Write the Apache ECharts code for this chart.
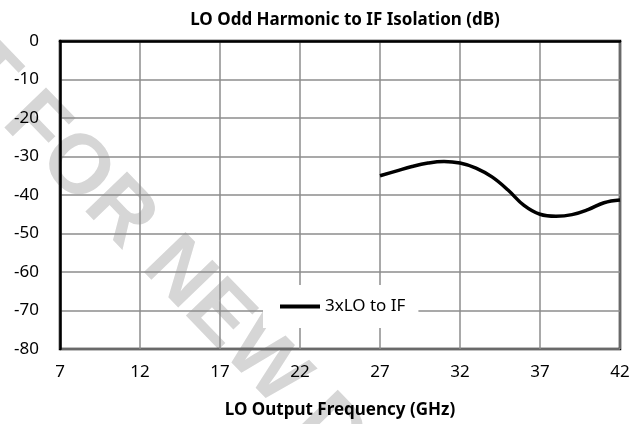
<!DOCTYPE html>
<html>
<head>
<meta charset="utf-8">
<script src="https://cdn.jsdelivr.net/npm/echarts@6/dist/echarts.min.js"></script>
<style>
  html, body { margin: 0; padding: 0; background: #fff; }
  #chart { width: 640px; height: 424px; }
</style>
</head>
<body>
<div id="chart"></div>
<script>
  // LO frequency (GHz) and isolation (dB)
  const freqGHz = [27, 28, 29, 30, 31, 32, 33, 34, 35, 36, 37, 38, 39, 40, 41, 42]
  const isolationDb = [-35, -33.8, -32.6, -31.7, -31.3, -31.7, -33.0, -35.3, -38.7, -42.7, -45.0, -45.5, -45.1, -43.8, -42.0, -41.3]
  const seriesName = '3xLO to IF'

  const font = 'Noto Sans'
  const chart = echarts.init(document.getElementById('chart'))

  chart.setOption({
    backgroundColor: '#fff',
    animation: false,
    title: {
      text: 'LO Odd Harmonic to IF Isolation (dB)',
      left: 340,
      textAlign: 'center',
      top: 7,
      textStyle: { fontFamily: font, fontSize: 17, fontWeight: 'bold', color: '#000' }
    },
    // watermark
    graphic: [{
      type: 'text',
      z: -10,
      x: -92,
      y: -66,
      rotation: -46 * Math.PI / 180,
      style: {
        text: 'NOT FOR NEW DESIGNS',
        font: 'bold 84px "Liberation Sans"',
        fill: '#d6d6d6'
      }
    }],
    legend: {
      left: 263,
      top: 285,
      backgroundColor: '#fff',
      padding: [13, 13, 13, 17],
      itemWidth: 40,
      itemHeight: 4,
      itemGap: 4,
      textStyle: { fontFamily: font, fontSize: 17, color: '#000' },
      data: [{ name: seriesName, icon: 'rect' }]
    },
    grid: {
      left: 60,
      right: 20,
      top: 41,
      bottom: 75,
      show: true,
      borderColor: '#000',
      borderWidth: 2.5
    },
    xAxis: {
      type: 'value',
      min: 7,
      max: 42,
      interval: 5,
      name: 'LO Output Frequency (GHz)',
      nameLocation: 'middle',
      nameGap: 53,
      nameTextStyle: { fontFamily: font, fontSize: 17, fontWeight: 'bold', color: '#000' },
      axisLine: { lineStyle: { color: '#000', width: 2.5 } },
      axisTick: { show: false },
      axisLabel: { fontFamily: font, fontSize: 17, color: '#000', margin: 15 },
      splitLine: { lineStyle: { color: '#8c8c8c', width: 1.5 } }
    },
    yAxis: {
      type: 'value',
      min: -80,
      max: 0,
      interval: 10,
      axisLine: { lineStyle: { color: '#000', width: 2.5 } },
      axisTick: { show: false },
      axisLabel: { fontFamily: font, fontSize: 17, color: '#000', margin: 21 },
      splitLine: { lineStyle: { color: '#8c8c8c', width: 1.5 } }
    },
    series: [{
      name: seriesName,
      type: 'line',
      smooth: 0.4,
      symbol: 'none',
      lineStyle: { color: '#000', width: 3.5 },
      itemStyle: { color: '#000' },
      data: freqGHz.map((f, i) => [f, isolationDb[i]])
    }]
  })
</script>
</body>
</html>
